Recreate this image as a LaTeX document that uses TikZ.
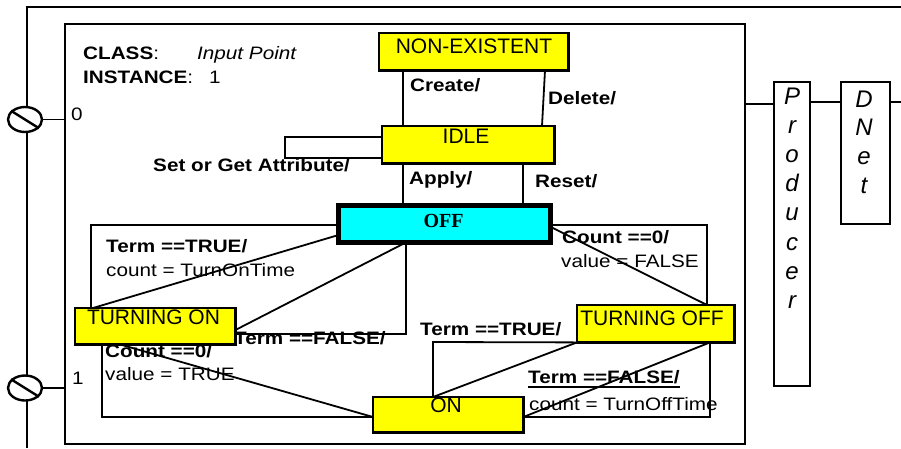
\documentclass[tikz,border=0pt]{standalone}
\usepackage{fontspec}
\setmainfont{Liberation Sans}
\newfontfamily\lblfont[FakeStretch=1.15]{Liberation Sans}
\newfontfamily\offfont{Liberation Serif}
\usetikzlibrary{shapes.geometric}
\definecolor{stateyellow}{RGB}{255,255,0}
\definecolor{offcyan}{RGB}{0,255,255}
\tikzset{
  frame/.style={line width=2.4pt},
  conn/.style={line width=1.8pt, line join=miter},
  stbox/.style={draw, line width=2.4pt, fill=stateyellow, inner sep=0pt, anchor=north west},
  plainbox/.style={draw, line width=1.8pt, fill=white, inner sep=0pt, anchor=north west},
  port/.style={draw, ellipse, line width=2.4pt, fill=white, inner sep=0pt,
    minimum width=34pt, minimum height=25pt},
  lbl/.style={inner sep=0pt, anchor=base west, font=\fontsize{18}{20}\selectfont\lblfont},
  blbl/.style={lbl, font=\fontsize{18}{20}\selectfont\lblfont\bfseries},
  btxt/.style={inner sep=0pt, anchor=base, font=\fontsize{21}{24}\selectfont},
  vlet/.style={inner sep=0pt, anchor=base, font=\fontsize{24}{29}\selectfont\itshape}
}
\begin{document}
\begin{tikzpicture}[x=1pt,y=-1pt]
\useasboundingbox (0,0) rectangle (901,448);

% outer frame
\draw[frame] (27,448) -- (27,7) -- (901,7);

% object box
\node[draw, line width=2pt, inner sep=0pt, anchor=north west,
      minimum width=680pt, minimum height=420pt] (obj) at (64,23) {};

% state boxes (placed first so connectors can refer to them; drawn again on top)
\path
  node[stbox, draw=none, fill=none, minimum width=187pt, minimum height=35pt] (nonex) at (379,33) {}
  node[stbox, draw=none, fill=none, minimum width=170pt, minimum height=35pt] (idle) at (382,126) {}
  node[stbox, draw=none, fill=none, minimum width=210pt, minimum height=34.5pt] (off) at (338.5,205.5) {}
  node[stbox, draw=none, fill=none, minimum width=158pt, minimum height=34pt] (tOn) at (75,308) {}
  node[stbox, draw=none, fill=none, minimum width=155pt, minimum height=35pt] (tOff) at (577,305) {}
  node[stbox, draw=none, fill=none, minimum width=148pt, minimum height=33pt] (on) at (373,397) {};

% producer and network boxes
\node[plainbox, minimum width=36pt, minimum height=304pt] (prod) at (773,81) {};
\node[plainbox, minimum width=49pt, minimum height=142pt] (dnet) at (840,81) {};
\coordinate (busend) at (901,102);

% transitions
\draw[conn] (nonex.south -| 403,0) -- (idle.north -| 403,0);
\draw[conn] (nonex.south -| 545,0) -- (idle.north -| 542,0);
\draw[conn] (idle.west |- 0,137) -- (285,137) -- (285,158) -- (idle.west |- 0,158);
\draw[conn] (idle.south -| 403,0) -- (off.north -| 403,0);
\draw[conn] (idle.south -| 523,0) -- (off.north -| 523,0);

\draw[conn] (off.west |- 0,225) -- (91,225) -- (tOn.north -| 91,0);
\draw[conn] (tOn.north -| 93,0) -- (off.west |- 0,235);
\draw[conn] (tOn.east |- 0,330) -- (off.south -| 406,0) -- (406,334) -- (tOn.east |- 0,334);

\draw[conn] (tOn.south -| 102,0) -- (102,417) -- (on.west |- 0,417);
\draw[conn] (tOn.south -| 120,0) -- (on.west |- 0,417);

\draw[conn] (on.north -| 433,0) -- (433,342) -- (tOff.south west);
\draw[conn] (on.north -| 433,0) -- (tOff.south west);

\draw[conn] (tOff.south -| 710,0) -- (710,417) -- (on.east |- 0,417);
\draw[conn] (tOff.south -| 710,0) -- (on.east |- 0,417);

\draw[conn] (off.east |- 0,225) -- (707,225) -- (tOff.north -| 707,0);
\draw[conn] (off.east |- 0,227) -- (tOff.north -| 707,0);

% bus to producer and network
\draw[conn] (obj.east |- 0,104) -- (prod.west |- 0,104);
\draw[conn] (prod.east |- 0,102) -- (dnet.west |- 0,102);
\draw[conn] (dnet.east |- 0,102) -- (busend);

% state boxes drawn over the connectors
\draw[line width=2.4pt, fill=stateyellow] (nonex.north west) rectangle (nonex.south east);
\draw[line width=2.4pt, fill=stateyellow] (idle.north west) rectangle (idle.south east);
\draw[line width=5pt, fill=offcyan] (off.north west) rectangle (off.south east);
\draw[line width=2.4pt, fill=stateyellow] (tOn.north west) rectangle (tOn.south east);
\draw[line width=2.4pt, fill=stateyellow] (tOff.north west) rectangle (tOff.south east);
\draw[line width=2.4pt, fill=stateyellow] (on.north west) rectangle (on.south east);

% state names
\node[btxt] (nonex-t) at (474,53) {NON-EXISTENT};
\node[btxt] (idle-t) at (466,143) {IDLE};
\node[inner sep=0pt, anchor=base, font=\fontsize{20}{24}\selectfont\offfont\bfseries] (off-t) at (443.5,227) {OFF};
\node[btxt] (tOn-t) at (153.5,324) {TURNING ON};
\node[btxt] (tOff-t) at (652,325) {TURNING OFF};
\node[btxt] (on-t) at (446,412) {ON};

% ports
\node[port] (p0) at (25,119.5) {};
\node[port] (p1) at (25,388) {};
\draw[frame] (p0.148) -- (p0.-32);
\draw[frame] (p1.148) -- (p1.-32);
\draw[conn] (p0.east) -- (obj.west |- p0.east);
\draw[conn] (p1.east) -- (obj.west |- p1.east);
\node[lbl] (n0) at (71,120) {0};
\node[lbl] (n1) at (72,384) {1};

% header
\node[lbl] (cls) at (83,59) {\textbf{CLASS}:};
\node[lbl] (clsv) at (197,59) {\itshape Input Point};
\node[lbl] (ins) at (83,83) {\textbf{INSTANCE}:};
\node[lbl] (insv) at (209,83) {1};

% transition labels
\node[blbl] (l-create) at (410,91) {Create/};
\node[blbl] (l-delete) at (548,104) {Delete/};
\node[blbl] (l-attr) at (153,171) {Set or Get Attribute/};
\node[blbl] (l-apply) at (409,184) {Apply/};
\node[blbl] (l-reset) at (535,187) {Reset/};

\node[blbl] (l-ton1) at (106,252) {Term ==TRUE/};
\node[lbl] (l-ton2) at (106,276) {count = TurnOnTime};
\node[blbl] (l-tonf) at (234,344) {Term ==FALSE/};
\node[blbl] (l-c0a) at (105,357) {Count ==0/};
\node[lbl] (l-c0b) at (105,380) {value = TRUE};

\node[blbl] (l-toff1) at (420,335) {Term ==TRUE/};
\node[blbl] (l-tofff) at (528,383) {Term ==FALSE/};
\draw[line width=2pt] ([yshift=-4pt]l-tofff.base west) -- ([yshift=-4pt]l-tofff.base east);
\node[lbl] (l-tofft) at (529,410) {count = TurnOffTime};
\node[blbl] (l-c0c) at (562,243) {Count ==0/};
\node[lbl] (l-c0d) at (561,267) {value = FALSE};

% vertical names
\foreach \ch [count=\i from 0] in {P,r,o,d,u,c,e,r}
  \node[vlet] (prod-\i) at (792,104+29.2*\i) {\ch};
\foreach \ch [count=\i from 0] in {D,N,e,t}
  \node[vlet] (dnet-\i) at (864,107+28.7*\i) {\ch};
\end{tikzpicture}
\end{document}
